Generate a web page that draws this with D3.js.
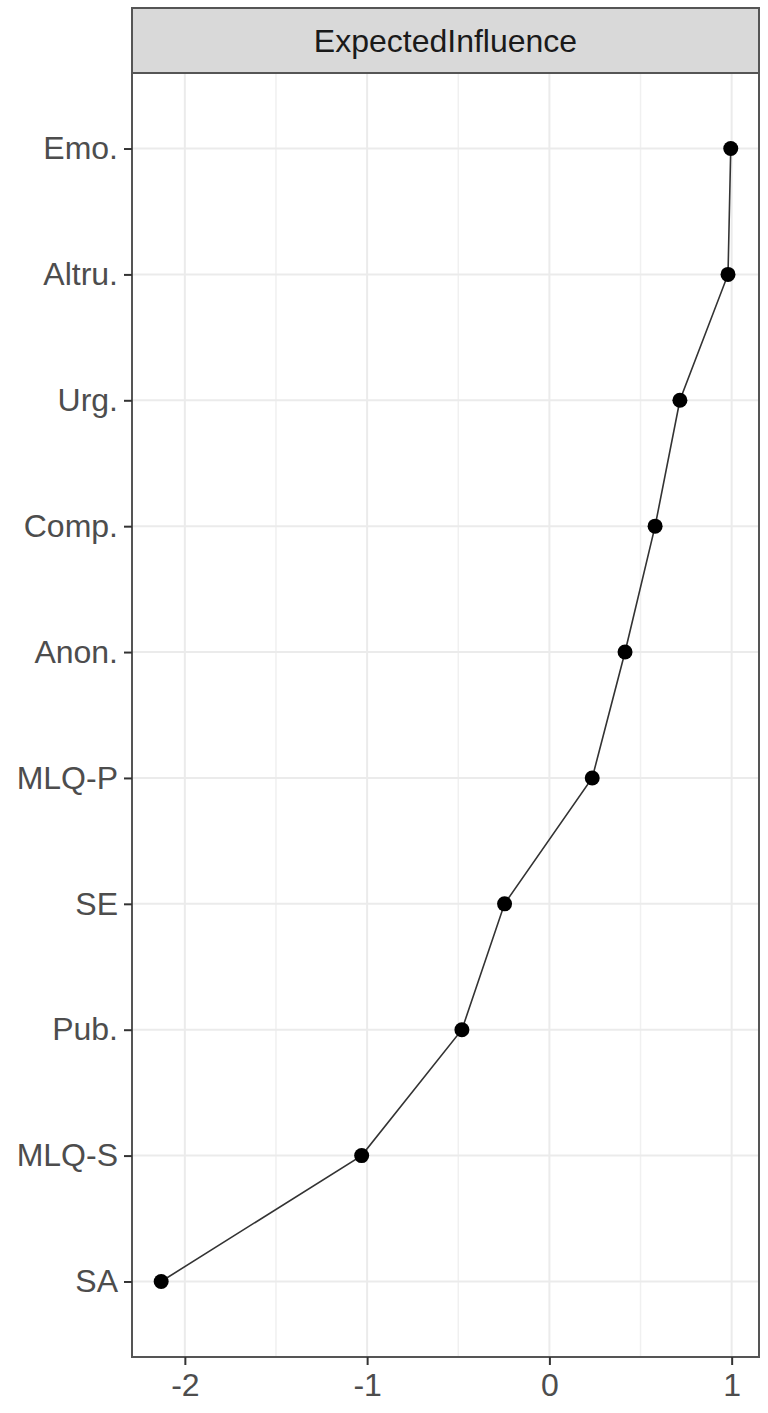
<!DOCTYPE html>
<html>
<head>
<meta charset="utf-8">
<script src="https://cdn.jsdelivr.net/npm/d3@7"></script>
<style>
  body { margin: 0; background: #fff; }
  svg { display: block; font-family: "Liberation Sans", Arial, sans-serif; }
</style>
</head>
<body>
<div id="chart"></div>
<script>
// chart data
var nodes = ["Emo.", "Altru.", "Urg.", "Comp.", "Anon.", "MLQ-P", "SE", "Pub.", "MLQ-S", "SA"];
var influence = [0.995, 0.98, 0.716, 0.58, 0.415, 0.235, -0.246, -0.48, -1.03, -2.13];
var xTicks = [-2, -1, 0, 1];
var xMinor = [-1.5, -0.5, 0.5];
var stripLabel = "ExpectedInfluence";

var W = 768, H = 1413;
var panel = { left: 132, right: 759, top: 73, bottom: 1357 },
    stripTop = 8;

var svg = d3.select("#chart").append("svg")
    .attr("width", W)
    .attr("height", H);

var x = d3.scaleLinear()
    .domain([-2.29, 1.15])
    .range([panel.left, panel.right]);

// discrete axis with ggplot-style 0.6 padding
var y = d3.scalePoint()
    .domain(nodes)
    .range([panel.top, panel.bottom])
    .padding(0.6);

var data = nodes.map((n, i) => ({ node: n, value: influence[i] }));

// panel background
svg.append("rect")
    .attr("x", panel.left).attr("y", panel.top)
    .attr("width", panel.right - panel.left)
    .attr("height", panel.bottom - panel.top)
    .attr("fill", "#fff");

// grid lines
var grid = svg.append("g");
grid.selectAll(".minor")
    .data(xMinor)
    .enter().append("line")
    .attr("x1", d => x(d)).attr("x2", d => x(d))
    .attr("y1", panel.top).attr("y2", panel.bottom)
    .attr("stroke", "#f0f0f0")
    .attr("stroke-width", 1.5);

grid.selectAll(".major")
    .data(xTicks)
    .enter().append("line")
    .attr("x1", d => x(d)).attr("x2", d => x(d))
    .attr("y1", panel.top).attr("y2", panel.bottom)
    .attr("stroke", "#ebebeb")
    .attr("stroke-width", 2);

grid.selectAll(".ymajor")
    .data(nodes)
    .enter().append("line")
    .attr("x1", panel.left).attr("x2", panel.right)
    .attr("y1", d => y(d)).attr("y2", d => y(d))
    .attr("stroke", "#ebebeb")
    .attr("stroke-width", 2);

// the line + points
var line = d3.line()
    .x(d => x(d.value))
    .y(d => y(d.node));

svg.append("path")
    .datum(data)
    .attr("d", line)
    .attr("fill", "none")
    .attr("stroke", "#333")
    .attr("stroke-width", 1.6);

svg.append("g")
    .selectAll("circle")
    .data(data)
    .enter().append("circle")
    .attr("cx", d => x(d.value))
    .attr("cy", d => y(d.node))
    .attr("r", 7.5)
    .attr("fill", "#000");

// panel border
svg.append("rect")
    .attr("x", panel.left).attr("y", panel.top)
    .attr("width", panel.right - panel.left)
    .attr("height", panel.bottom - panel.top)
    .attr("fill", "none")
    .attr("stroke", "#555")
    .attr("stroke-width", 2);

// facet strip
svg.append("rect")
    .attr("x", panel.left).attr("y", stripTop)
    .attr("width", panel.right - panel.left)
    .attr("height", panel.top - stripTop)
    .attr("fill", "#d9d9d9")
    .attr("stroke", "#555")
    .attr("stroke-width", 2);

svg.append("text")
    .attr("x", (panel.left + panel.right) / 2)
    .attr("y", (stripTop + panel.top) / 2)
    .attr("text-anchor", "middle")
    .attr("dy", "0.36em")
    .style("font-size", "32px")
    .attr("fill", "#1a1a1a")
    .text(stripLabel);

// axes
var xAxis = svg.append("g")
    .attr("transform", "translate(0," + panel.bottom + ")")
    .call(d3.axisBottom(x).tickValues(xTicks).tickSize(8).tickPadding(8).tickFormat(d => String(d)));
xAxis.select(".domain").remove();
xAxis.selectAll("line").attr("stroke", "#333").attr("stroke-width", 2);
xAxis.selectAll("text")
    .style("font-size", "32px")
    .attr("fill", "#4d4d4d")
    .attr("font-family", "Liberation Sans, Arial, sans-serif");

var yAxis = svg.append("g")
    .attr("transform", "translate(" + panel.left + ",0)")
    .call(d3.axisLeft(y).tickSize(8).tickPadding(6));
yAxis.select(".domain").remove();
yAxis.selectAll("line").attr("stroke", "#333").attr("stroke-width", 2);
yAxis.selectAll("text")
    .style("font-size", "32px")
    .attr("fill", "#4d4d4d")
    .attr("font-family", "Liberation Sans, Arial, sans-serif");
</script>
</body>
</html>
